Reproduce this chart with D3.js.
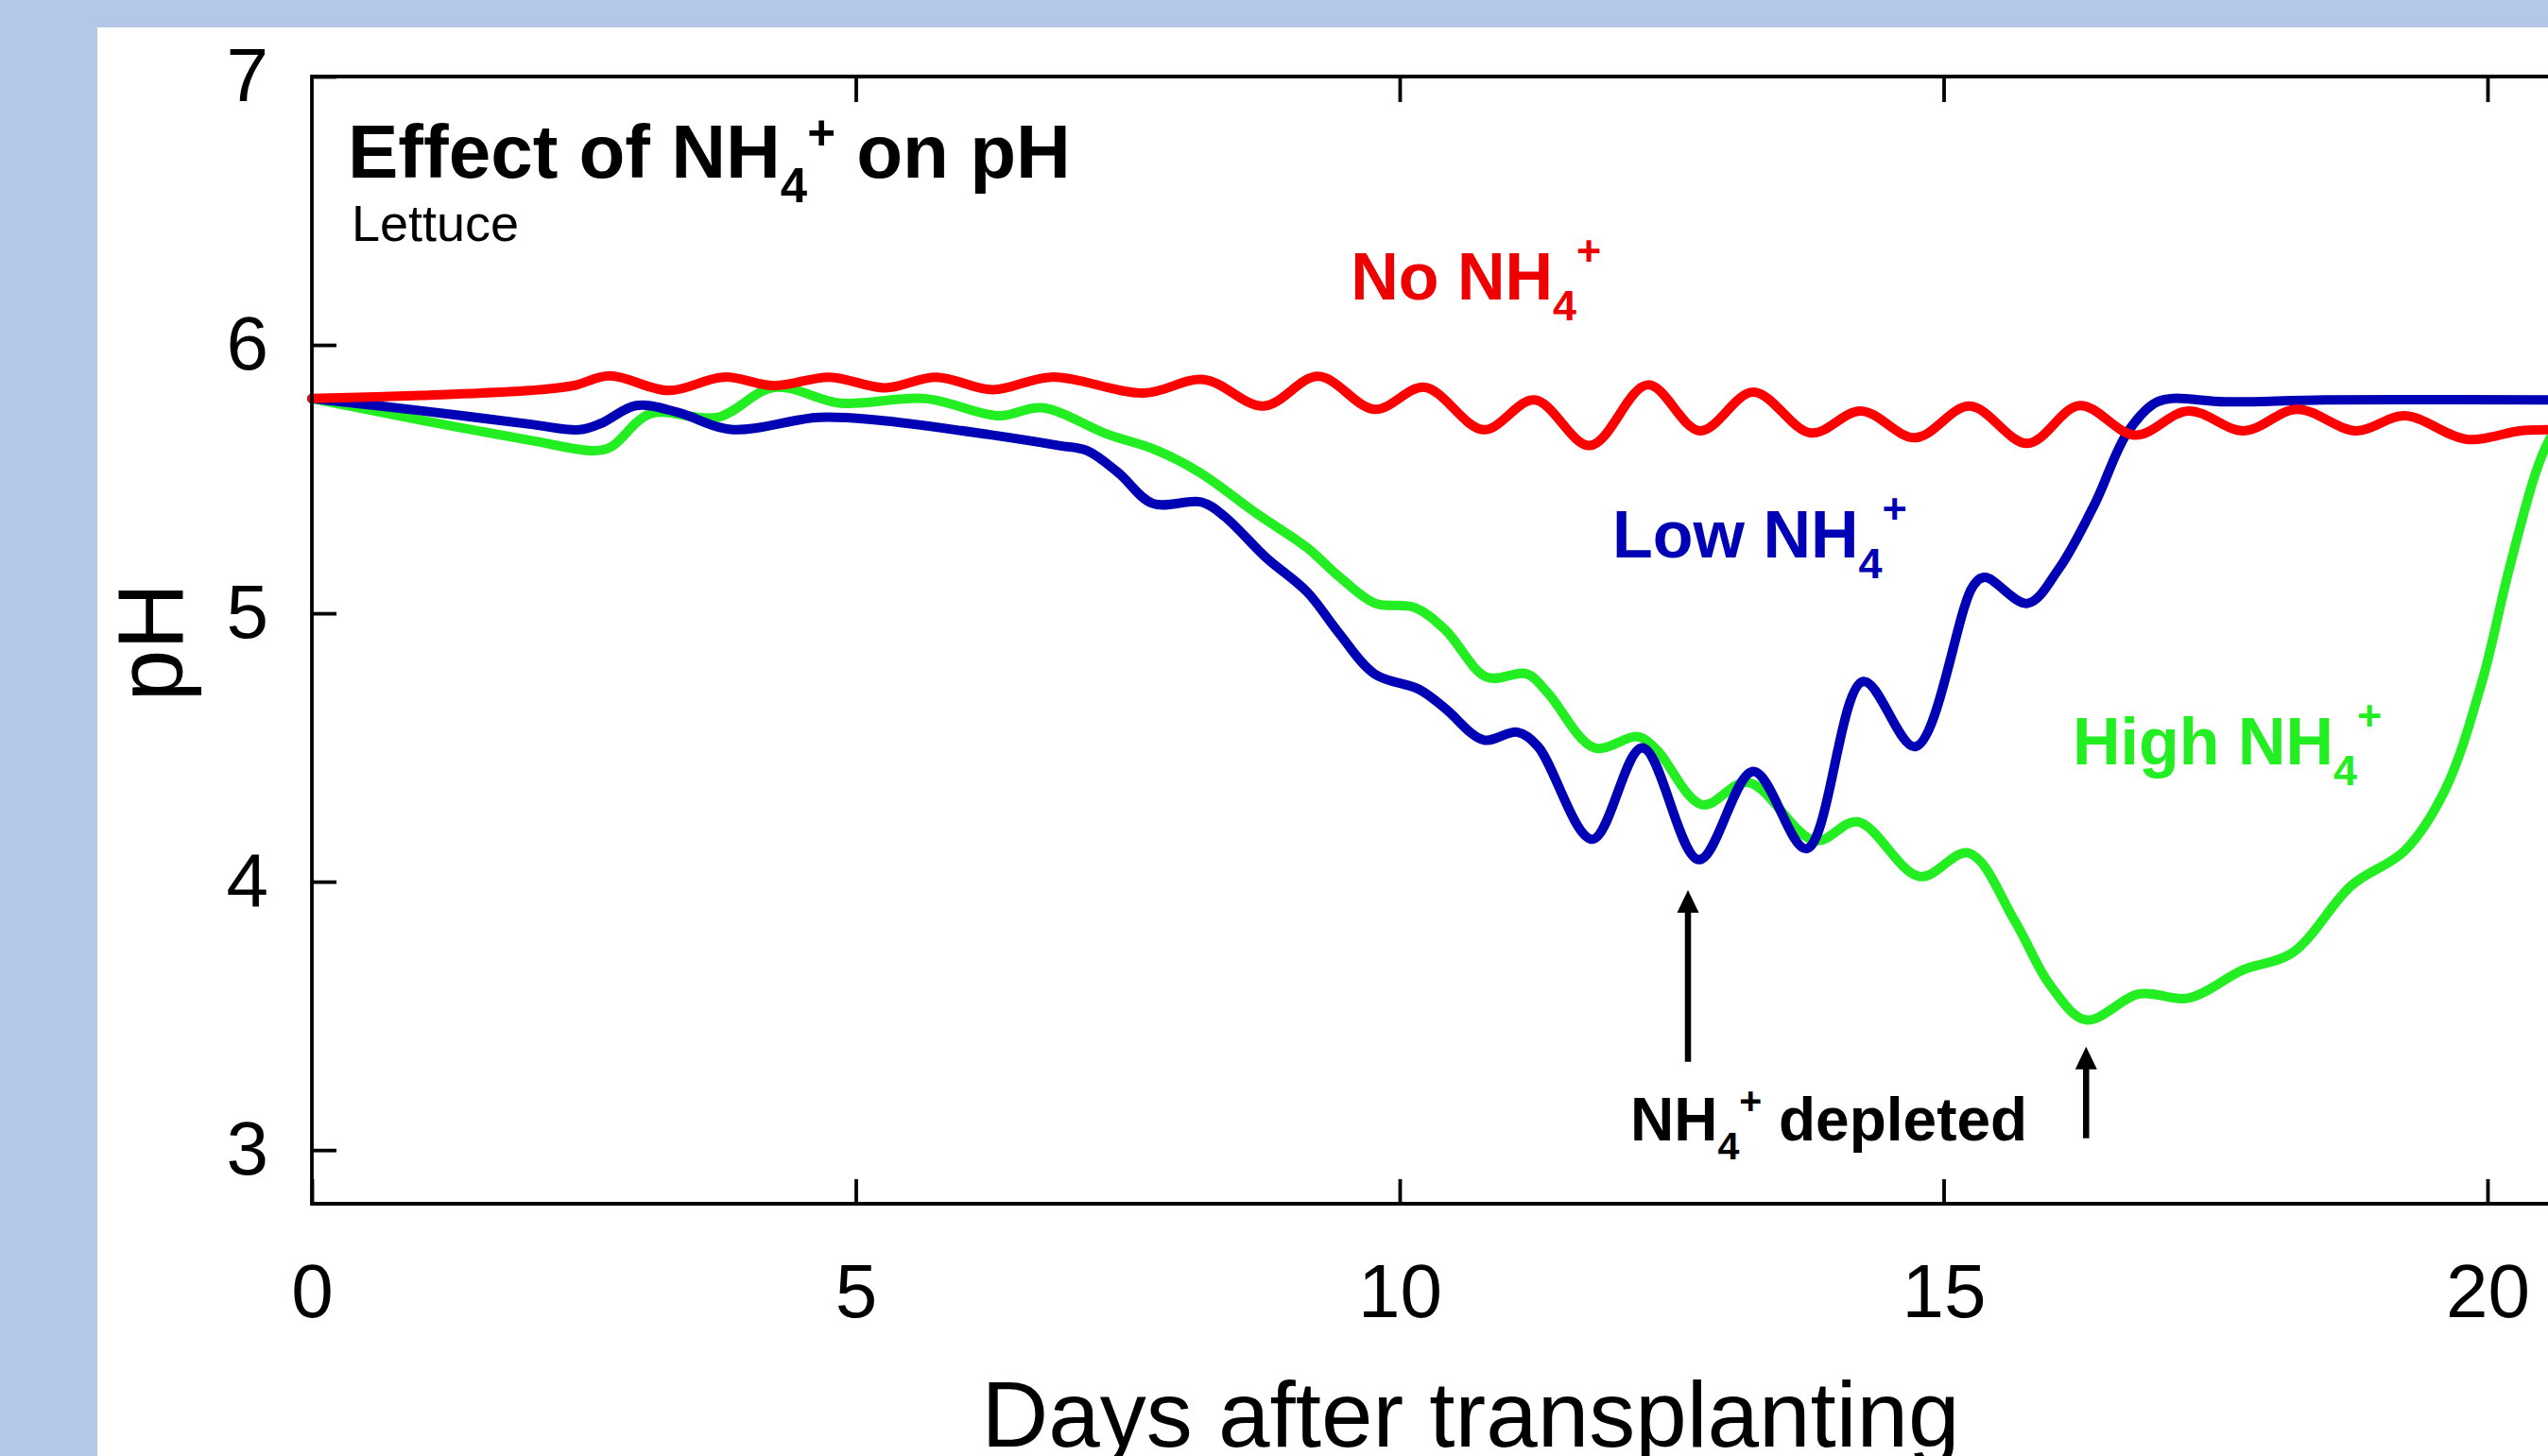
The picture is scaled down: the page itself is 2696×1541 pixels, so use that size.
<!DOCTYPE html>
<html>
<head>
<meta charset="utf-8">
<script src="https://cdn.jsdelivr.net/npm/d3@7"></script>
<style>
  html, body { margin: 0; padding: 0; background: #b4c7e7; overflow: hidden; }
  svg { display: block; overflow: hidden; }
  text { font-family: "Liberation Sans", Arial, Helvetica, sans-serif; }
</style>
</head>
<body>
<svg id="chart" width="2696" height="1541"></svg>
<script>
// ---------------- data ----------------
const xTicks = [0, 5, 10, 15, 20];
const yTicks = [3, 4, 5, 6, 7];

// No NH4+ (red)
const noDays = [0, 1.0, 2.0, 2.4, 2.74, 3.28, 3.79, 4.25, 4.76, 5.27, 5.74, 6.26, 6.80, 7.65, 8.20, 8.75, 9.25, 9.77,
  10.23, 10.77, 11.24, 11.75, 12.28, 12.76, 13.25, 13.78, 14.24, 14.74, 15.24, 15.77, 16.25, 16.76, 17.25, 17.76,
  18.25, 18.79, 19.24, 19.81, 20.3, 20.56, 21.0];
const noPH = [5.80, 5.812, 5.83, 5.848, 5.885, 5.83, 5.88, 5.848, 5.88, 5.84, 5.88, 5.833, 5.88, 5.821, 5.871, 5.772, 5.883, 5.76,
  5.842, 5.684, 5.795, 5.625, 5.851, 5.68, 5.824, 5.672, 5.754, 5.654, 5.772, 5.633, 5.774, 5.664, 5.754, 5.68,
  5.76, 5.68, 5.736, 5.648, 5.68, 5.684, 5.69];

// Low NH4+ (blue)
const lowDays = [0, 1.0, 2.0, 2.46, 2.66, 2.98, 3.37, 3.85, 4.66, 5.19, 6.22, 6.87, 7.12, 7.41, 7.73, 8.18, 8.39, 8.77, 9.15,
  9.44, 9.77, 10.18, 10.42, 10.77, 11.08, 11.27, 11.77, 12.23, 12.75, 13.25, 13.74, 14.26, 14.74, 15.27, 15.38,
  15.77, 16.06, 16.39, 16.68, 16.93, 17.09, 17.59, 18.5, 21.0];
const lowPH = [5.80, 5.755, 5.705, 5.684, 5.708, 5.774, 5.748, 5.685, 5.73, 5.72, 5.666, 5.625, 5.607, 5.525, 5.409, 5.414, 5.361, 5.208, 5.079,
  4.927, 4.774, 4.716, 4.645, 4.528, 4.557, 4.504, 4.158, 4.499, 4.082, 4.411, 4.123, 4.746, 4.503, 5.101, 5.134,
  5.037, 5.166, 5.408, 5.667, 5.78, 5.80, 5.788, 5.795, 5.795];

// High NH4+ (green)
const highDays = [0, 1.0, 2.0, 2.59, 2.75, 3.11, 3.73, 4.25, 4.86, 5.64, 6.32, 6.71, 7.32, 7.73, 8.16, 8.68, 9.15, 9.44, 9.77,
  10.14, 10.42, 10.80, 11.17, 11.36, 11.79, 12.19, 12.36, 12.78, 13.20, 13.82, 14.21, 14.78, 15.23, 15.65, 15.98,
  16.31, 16.80, 17.25, 17.75, 18.21, 18.75, 19.24, 19.61, 19.95, 20.19, 20.44, 20.56, 20.8, 21.0];
const highPH = [5.80, 5.72, 5.645, 5.606, 5.62, 5.743, 5.73, 5.842, 5.783, 5.80, 5.736, 5.766, 5.666, 5.613, 5.525, 5.373, 5.244, 5.138, 5.038,
  5.021, 4.938, 4.762, 4.774, 4.704, 4.499, 4.540, 4.493, 4.287, 4.370, 4.152, 4.223, 4.019, 4.107, 3.857, 3.614,
  3.485, 3.582, 3.566, 3.671, 3.736, 3.986, 4.116, 4.342, 4.746, 5.150, 5.520, 5.640, 5.78, 5.80];

// annotation arrows (day, tip pH, tail pH)
const arrowDays = [12.65, 16.31];
const arrowTipPH = [3.969, 3.385];
const arrowTailPH = [3.329, 3.044];

// ---------------- layout ----------------
const svg = d3.select("#chart");
const W = 2696, H = 1541;

svg.append("rect").attr("x", 0).attr("y", 0).attr("width", W).attr("height", H).attr("fill", "#b4c7e7");
svg.append("rect").attr("x", 103).attr("y", 29).attr("width", W - 103).attr("height", H - 29).attr("fill", "#ffffff");

const x = d3.scaleLinear().domain([0, 20]).range([330, 2632]);
const y = d3.scaleLinear().domain([2.8, 7]).range([1274, 81]);

const g = svg.append("g");

// lines
const line = d3.line().x(d => x(d[0])).y(d => y(d[1])).curve(d3.curveCatmullRom.alpha(0.5));
const series = [
  { days: highDays, ph: highPH, color: "#22ee22" },
  { days: lowDays, ph: lowPH, color: "#0000b4" },
  { days: noDays, ph: noPH, color: "#ff0000" }
];
series.forEach(s => {
  g.append("path")
    .datum(s.days.map((d, i) => [d, s.ph[i]]))
    .attr("d", line)
    .attr("fill", "none")
    .attr("stroke", s.color)
    .attr("stroke-width", 10)
    .attr("stroke-linecap", "round")
    .attr("stroke-linejoin", "round");
});

// frame: left, top and bottom edges (right edge lies outside the picture)
const frame = g.append("g").attr("stroke", "#000").attr("stroke-width", 3.8);
frame.append("line").attr("x1", x(0)).attr("x2", x(0)).attr("y1", y(7) - 1.9).attr("y2", y(2.8) + 1.9);
frame.append("line").attr("x1", x(0)).attr("x2", W).attr("y1", y(7)).attr("y2", y(7));
frame.append("line").attr("x1", x(0)).attr("x2", W).attr("y1", y(2.8)).attr("y2", y(2.8));

// axes
const xAxis = g.append("g").attr("transform", `translate(0,${y(2.8)})`)
  .call(d3.axisBottom(x).tickValues(xTicks).tickSizeInner(-26).tickSizeOuter(0).tickPadding(63).tickFormat(d3.format("d")));
const yAxis = g.append("g").attr("transform", `translate(${x(0)},0)`)
  .call(d3.axisLeft(y).tickValues(yTicks).tickSizeInner(-26).tickSizeOuter(0).tickPadding(46).tickFormat(d3.format("d")));
const topAxis = g.append("g").attr("transform", `translate(0,${y(7)})`)
  .call(d3.axisTop(x).tickValues(xTicks.slice(1)).tickSizeInner(-27).tickSizeOuter(0).tickFormat(""));

[xAxis, yAxis, topAxis].forEach(a => {
  a.select(".domain").remove();
  a.selectAll(".tick line").attr("stroke", "#000").attr("stroke-width", 3.8);
  a.selectAll(".tick text").attr("fill", "#000").style("font-size", "80px")
    .style("font-family", '"Liberation Sans", Arial, sans-serif');
});
topAxis.selectAll(".tick text").remove();

// axis titles
svg.append("text")
  .attr("x", 1556).attr("y", 1531)
  .attr("text-anchor", "middle")
  .style("font-size", "98px")
  .text("Days after transplanting");

svg.append("text")
  .attr("transform", `translate(193,${(y(2.8) + y(7)) / 2 + 2}) rotate(-90)`)
  .attr("text-anchor", "middle")
  .style("font-size", "98px")
  .text("pH");

// labels with sub/superscripts
function chemLabel(px, py, pre, post, size, color, bold, subDy, supDy) {
  const t = svg.append("text").attr("x", px).attr("y", py)
    .attr("fill", color).style("font-size", size + "px")
    .style("font-weight", bold ? "bold" : "normal");
  const small = Math.round(size * 0.64);
  t.append("tspan").text(pre);
  t.append("tspan").attr("dy", subDy).style("font-size", small + "px").text("4");
  t.append("tspan").attr("dy", supDy - subDy).style("font-size", small + "px").text("+");
  if (post) t.append("tspan").attr("dy", -supDy).text(post);
  return t;
}

chemLabel(368, 188, "Effect of NH", " on pH", 80, "#000", true, 26, -30);
svg.append("text").attr("x", 372).attr("y", 255).style("font-size", "54px").text("Lettuce");

chemLabel(x(9.55), y(6.169), "No NH", "", 70, "#ee0000", true, 22, -36);
chemLabel(x(11.955), y(5.208), "Low NH", "", 70, "#0000b4", true, 22, -36);
chemLabel(x(16.186), y(4.438), "High NH", "", 70, "#22ee22", true, 22, -36);
chemLabel(x(12.12), y(3.037), "NH", " depleted", 64, "#000", true, 20, -28);

// arrows
arrowDays.forEach((d, i) => {
  const ax = x(d), tip = y(arrowTipPH[i]), tail = y(arrowTailPH[i]);
  g.append("line").attr("x1", ax).attr("x2", ax).attr("y1", tail).attr("y2", tip + 20)
    .attr("stroke", "#000").attr("stroke-width", 6.5);
  g.append("path")
    .attr("d", `M${ax},${tip} L${ax - 11.5},${tip + 24} L${ax + 11.5},${tip + 24} Z`)
    .attr("fill", "#000");
});
</script>
</body>
</html>
